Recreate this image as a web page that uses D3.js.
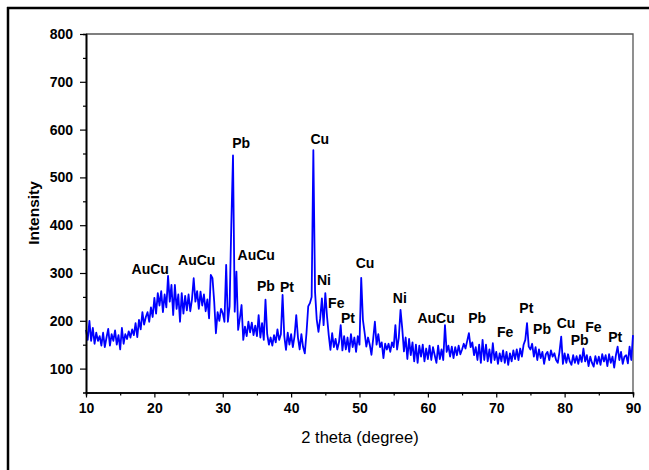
<!doctype html>
<html>
<head>
    <meta charset="UTF-8">
    <title>XRD pattern</title>
    <script src="https://d3js.org/d3.v7.min.js"></script>
    <style>
        body { margin: 0; background: #fff; }
        text { font-family: "Liberation Sans", Arial, sans-serif; }
    </style>
</head>
<body>
<script>
    // 2 theta starts at 10 and goes up in 0.25 degree steps
    var thetaStart = 10;
    var thetaStep = 0.25;
    var intensity = [
        181, 160, 200, 158,  185, 152, 175, 158,  168, 148, 175, 145,  165, 183, 148, 172,
        158, 180, 150, 170,  140, 185, 152, 172,  162, 178, 165, 182,  170, 195, 166, 202,
        182, 218, 192, 208,  218, 198, 228, 208,  248, 215, 258, 232,  262, 218, 255, 228,
        294, 240, 275, 212,  275, 225, 255, 198,  258, 215, 252, 222,  255, 220, 245, 289,
        240, 262, 225, 261,  232, 255, 220, 245,  205, 296, 289, 240,  174, 218, 200, 225,
        216, 198, 317, 198,  230, 400, 546, 219,  303, 181, 205, 233,  160, 188, 168, 198,
        176, 196, 170, 190,  168, 212, 165, 195,  160, 244, 172, 150,  165, 148, 170, 155,
        182, 160, 172, 254,  168, 139, 175, 150,  172, 145, 168, 212,  165, 140, 172, 145,
        132, 175, 230, 237,  250, 557, 260, 202,  177, 205, 247, 191,  258, 209, 170, 139,
        174, 145, 162, 140,  155, 191, 138, 168,  140, 165, 135, 172,  145, 165, 135, 168,
        150, 290, 202, 175,  146, 165, 150, 129,  162, 198, 150, 172,  145, 155, 122, 152,
        140, 152, 135, 155,  145, 191, 140, 165,  223, 184, 136, 165,  120, 162, 128, 155,
        115, 150, 112, 148,  125, 150, 115, 142,  120, 148, 118, 145,  128, 112, 148, 120,
        140, 118, 191, 135,  148, 125, 146, 122,  145, 128, 148, 130,  140, 152, 142, 158,
        174, 145, 155, 128,  145, 118, 150, 112,  160, 118, 150, 115,  140, 112, 153, 118,
        135, 110, 132, 115,  138, 112, 135, 108,  132, 115, 138, 120,  140, 118, 142, 125,
        150, 160, 195, 146,  140, 152, 125, 145,  118, 140, 122, 135,  110, 130, 135, 118,
        138, 125, 132, 118,  112, 135, 167, 110,  132, 112, 130, 115,  108, 128, 112, 126,
        110, 128, 114, 142,  115, 128, 105, 125,  112, 104, 126, 110,  125, 108, 130, 115,
        128, 105, 130, 112,  125, 102, 128, 146,  118, 135, 110, 125,  128, 111, 146, 118,
        170
    ];

    // phase labels and where they sit (2 theta, intensity)
    var phaseNames = ["AuCu", "AuCu", "Pb", "AuCu", "Pb", "Pt", "Cu", "Ni", "Fe", "Pt", "Cu",
                      "Ni", "AuCu", "Pb", "Fe", "Pt", "Pb", "Cu", "Pb", "Fe", "Pt"];
    var phaseTheta = [19.4, 26.2, 32.7, 34.9, 36.3, 39.4, 44.2, 44.8, 46.6, 48.3, 50.8,
                      55.9, 61.2, 67.2, 71.3, 74.4, 76.7, 80.2, 82.2, 84.2, 87.4];
    var phaseLevel = [308, 327, 573, 337, 272, 270, 580, 285, 237, 206, 321,
                      247, 206, 206, 176, 227, 183, 195, 160, 187, 166];

    var xTicks = [10, 20, 30, 40, 50, 60, 70, 80, 90];
    var yTicks = [100, 200, 300, 400, 500, 600, 700, 800];

    var w = 649;
    var h = 470;
    var pLeft = 86, pRight = 633, pTop = 34, pBottom = 392.5;

    var svg = d3.select("body").append("svg")
        .attr("width", w)
        .attr("height", h);

    svg.append("rect").attr("width", w).attr("height", h).attr("fill", "#fff");

    // frame of the figure (only top and left are visible)
    svg.append("line").attr("x1", 7).attr("y1", 8).attr("x2", w).attr("y2", 8)
        .attr("stroke", "#000").attr("stroke-width", 2.5);
    svg.append("line").attr("x1", 8).attr("y1", 7).attr("x2", 8).attr("y2", h)
        .attr("stroke", "#000").attr("stroke-width", 2.5);

    var x = d3.scaleLinear().domain([10, 90]).range([pLeft, pRight]);
    var y = d3.scaleLinear().domain([50, 800]).range([pBottom, pTop]);

    var points = intensity.map(function(d, i) {
        return [thetaStart + i * thetaStep, d];
    });

    // top and right borders of the plot
    svg.append("path")
        .attr("d", "M" + pLeft + "," + pTop + "H" + pRight + "V" + pBottom)
        .attr("fill", "none")
        .attr("stroke", "#555")
        .attr("stroke-width", 1.3);

    var line = d3.line()
        .x(function(d) { return x(d[0]); })
        .y(function(d) { return y(d[1]); });

    svg.append("path")
        .datum(points)
        .attr("d", line)
        .attr("fill", "none")
        .attr("stroke", "#0000ff")
        .attr("stroke-width", 1.8)
        .attr("stroke-linejoin", "round");

    // minor ticks first, then the real axes
    var xMinor = d3.axisBottom(x).tickValues(d3.range(15, 90, 10)).tickSize(3).tickFormat("");
    var yMinor = d3.axisLeft(y).tickValues(d3.range(150, 800, 100)).tickSize(3).tickFormat("");
    svg.append("g").attr("transform", "translate(0," + pBottom + ")").call(xMinor);
    svg.append("g").attr("transform", "translate(" + pLeft + ",0)").call(yMinor);

    svg.append("g")
        .attr("class", "axis")
        .attr("transform", "translate(0," + pBottom + ")")
        .call(d3.axisBottom(x).tickValues(xTicks).tickSize(5).tickPadding(6).tickSizeOuter(0));
    svg.append("g")
        .attr("class", "axis")
        .attr("transform", "translate(" + pLeft + ",0)")
        .call(d3.axisLeft(y).tickValues(yTicks).tickSize(6).tickPadding(7).tickSizeOuter(0));

    svg.selectAll("g path.domain").attr("stroke", "#000").attr("stroke-width", 1.6);
    svg.selectAll("g .tick line").attr("stroke", "#000").attr("stroke-width", 1.2);
    svg.selectAll(".axis text")
        .attr("font-size", 14)
        .attr("font-weight", "bold")
        .attr("fill", "#000")
        .style("font-family", "'Liberation Sans', Arial, sans-serif");

    // peak labels
    svg.selectAll("text.phase")
        .data(phaseNames)
        .enter().append("text")
        .attr("class", "phase")
        .attr("x", function(d, i) { return x(phaseTheta[i]); })
        .attr("y", function(d, i) { return y(phaseLevel[i]); })
        .attr("text-anchor", "middle")
        .attr("dominant-baseline", "central")
        .attr("font-size", 14)
        .attr("font-weight", "bold")
        .text(function(d) { return d; });

    svg.append("text")
        .attr("transform", "translate(33,213) rotate(-90)")
        .attr("text-anchor", "middle")
        .attr("dominant-baseline", "central")
        .attr("font-size", 15.5)
        .attr("font-weight", "bold")
        .text("Intensity");

    svg.append("text")
        .attr("x", 360)
        .attr("y", 437)
        .attr("text-anchor", "middle")
        .attr("dominant-baseline", "central")
        .attr("font-size", 16.5)
        .text("2 theta (degree)");
</script>
</body>
</html>
